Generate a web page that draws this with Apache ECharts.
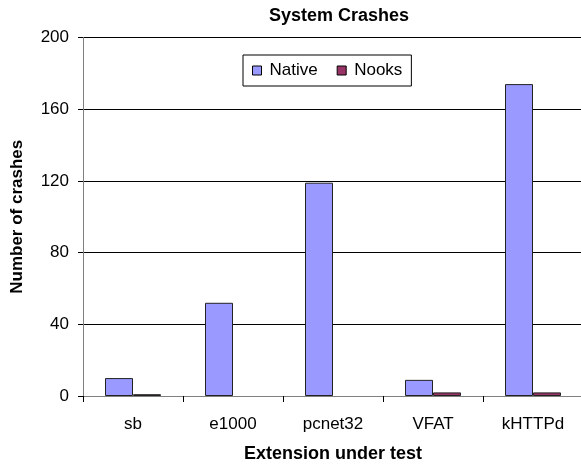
<!DOCTYPE html>
<html>
<head>
<meta charset="utf-8">
<script src="https://cdn.jsdelivr.net/npm/echarts@6/dist/echarts.min.js"></script>
<style>html,body{margin:0;padding:0;background:#fff}#c{width:581px;height:464px}</style>
</head>
<body>
<div id="c"></div>
<script>
const categories = ['sb', 'e1000', 'pcnet32', 'VFAT', 'kHTTPd'];
const nativeValues = [10, 52, 119, 9, 174];
const nooksValues = [1, 0, 0, 2, 2];
const yTicks = [0, 40, 80, 120, 160, 200];

const font = 'Arial, "Liberation Sans", sans-serif';
const toData = arr => arr.map(v => v === 0 ? {value: v, itemStyle: {borderWidth: 0}} : v);
const chart = echarts.init(document.getElementById('c'), null, {renderer: 'canvas'});
chart.setOption({
  animation: false,
  backgroundColor: '#fff',
  title: {
    text: 'System Crashes',
    left: 334, top: 2, textAlign: 'center',
    textStyle: {fontFamily: font, fontSize: 18, fontWeight: 'bold', color: '#000'}
  },
  legend: {
    left: 243, top: 55,
    orient: 'horizontal',
    backgroundColor: '#fff',
    borderColor: '#000', borderWidth: 1,
    padding: [7, 9, 7, 9],
    itemGap: 19,
    itemWidth: 9, itemHeight: 9,
    icon: 'rect',
    itemStyle: {borderColor: '#000', borderWidth: 1},
    textStyle: {fontFamily: font, fontSize: 17, color: '#000', padding: [0, 0, 0, 3]},
    data: ['Native', 'Nooks']
  },
  grid: {left: 83, top: 37.5, width: 500, height: 358.5, containLabel: false, outerBoundsMode: 'none'},
  xAxis: {
    type: 'category',
    data: categories,
    name: 'Extension under test',
    nameLocation: 'middle',
    nameGap: 49,
    nameTextStyle: {fontFamily: font, fontSize: 18, fontWeight: 'bold', color: '#000'},
    axisLine: {lineStyle: {color: '#808080', width: 1}},
    axisTick: {show: true, inside: false, length: 6, lineStyle: {color: '#000'}},
    axisLabel: {fontFamily: font, fontSize: 17, color: '#000', margin: 20}
  },
  yAxis: {
    type: 'value',
    min: yTicks[0], max: yTicks[yTicks.length - 1], interval: 40,
    name: 'Number of crashes',
    nameLocation: 'middle',
    nameGap: 57,
    nameRotate: 90,
    nameTextStyle: {fontFamily: font, fontSize: 17, fontWeight: 'bold', color: '#000'},
    axisLine: {show: true, lineStyle: {color: '#808080', width: 1}},
    axisTick: {show: true, inside: false, length: 5, lineStyle: {color: '#000'}},
    axisLabel: {fontFamily: font, fontSize: 17, color: '#000', margin: 14},
    splitLine: {show: true, lineStyle: {color: '#000', width: 1}}
  },
  series: [
    {
      name: 'Native', type: 'bar', data: toData(nativeValues),
      barGap: '0%', barCategoryGap: '44%',
      itemStyle: {color: '#9999FF', borderColor: '#222', borderWidth: 1}
    },
    {
      name: 'Nooks', type: 'bar', data: toData(nooksValues),
      barGap: '0%', barCategoryGap: '44%',
      itemStyle: {color: '#993366', borderColor: '#222', borderWidth: 1}
    }
  ]
});
</script>
</body>
</html>
